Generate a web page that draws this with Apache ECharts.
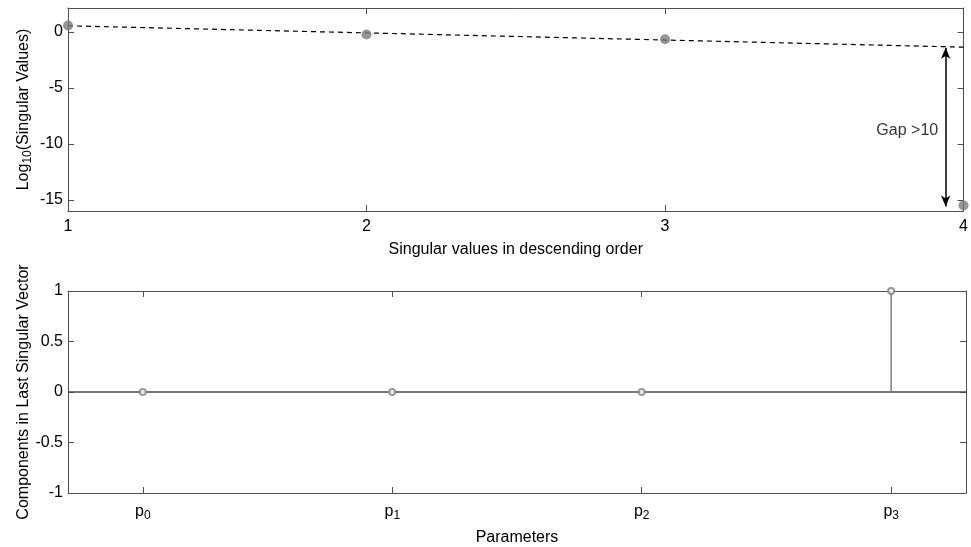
<!DOCTYPE html>
<html><head><meta charset="utf-8">
<script src="https://cdn.jsdelivr.net/npm/echarts@6/dist/echarts.min.js"></script>
<style>html,body{margin:0;padding:0;background:#fff}#c{width:971px;height:547px}</style>
</head><body><div id="c"></div>
<script>
// Top panel: log10 singular values
const svIndex = [1, 2, 3, 4];
const svLog = [0.58, -0.22, -0.65, -15.5];
const fitX = [1, 4];
const fitY = [0.56, -1.35];
const gapX = 3.94;
const gapY = [-1.4, -15.6];
const topYTicks = [-15, -10, -5, 0];
// Bottom panel: components of last singular vector
const params = ['p0', 'p1', 'p2', 'p3'];
const paramIdx = [0, 1, 2, 3];
const comps = [0, 0, 0, 1];

const AX = '#505050';
const FONT = 'Liberation Sans, Arial, Helvetica, sans-serif';
const FS = 16;
const chart = echarts.init(document.getElementById('c'), null, {renderer: 'canvas'});

const axisCommon = {
  axisLine: {show: true, onZero: false, lineStyle: {color: AX, width: 1}},
  axisTick: {show: true, inside: true, length: 6, lineStyle: {color: AX}},
  splitLine: {show: false},
  nameMoveOverlap: false,
  axisLabel: {color: '#000', fontFamily: FONT, fontSize: FS}
};
const nameStyle = {color: '#000', fontSize: FS, fontFamily: FONT};

const option = {
  animation: false,
  textStyle: {fontFamily: FONT},
  grid: [
    {left: 68, top: 8, width: 898, height: 203},
    {left: 68, top: 291, width: 898, height: 203}
  ],
  xAxis: [
    Object.assign({}, axisCommon, {
      type: 'value', gridIndex: 0, min: 1, max: 4, interval: 1, position: 'bottom',
      name: 'Singular values in descending order', nameLocation: 'middle', nameGap: 31,
      nameTextStyle: nameStyle,
      axisLabel: {color: '#000', fontFamily: FONT, fontSize: FS, margin: 8}
    }),
    Object.assign({}, axisCommon, {
      type: 'value', gridIndex: 0, min: 1, max: 4, interval: 1, position: 'top',
      axisLabel: {show: false}
    }),
    Object.assign({}, axisCommon, {
      type: 'value', gridIndex: 1, min: -0.3, max: 3.3, position: 'bottom',
      axisTick: {show: true, inside: true, length: 6, lineStyle: {color: AX}, customValues: paramIdx},
      axisLabel: {
        color: '#000', fontFamily: FONT, fontSize: FS, margin: 8, customValues: paramIdx,
        formatter: v => '{p|p}{s|' + params[Math.round(v)].slice(1) + '}',
        rich: {p: {fontSize: FS, color: '#000', fontFamily: FONT},
               s: {fontSize: 12, color: '#000', fontFamily: FONT, padding: [9, 0, 0, 0]}}
      },
      name: 'Parameters', nameLocation: 'middle', nameGap: 37,
      nameTextStyle: nameStyle
    }),
    Object.assign({}, axisCommon, {
      type: 'value', gridIndex: 1, min: -0.3, max: 3.3, position: 'top',
      axisTick: {show: true, inside: true, length: 6, lineStyle: {color: AX}, customValues: paramIdx},
      axisLabel: {show: false}
    })
  ],
  yAxis: [
    Object.assign({}, axisCommon, {
      type: 'value', gridIndex: 0, min: -16, max: 2.15, position: 'left',
      axisTick: {show: true, inside: true, length: 6, lineStyle: {color: AX}, customValues: topYTicks},
      axisLabel: {color: '#000', fontFamily: FONT, fontSize: FS, margin: 5, customValues: topYTicks},
      name: '{a|Log}{s|10}{a|(Singular Values)}', nameLocation: 'middle', nameGap: 34,
      nameTextStyle: {color: '#000', fontSize: FS, fontFamily: FONT,
        rich: {a: {fontSize: FS, color: '#000', fontFamily: FONT},
               s: {fontSize: 12, color: '#000', fontFamily: FONT, padding: [9, 0, 0, 0]}}}
    }),
    Object.assign({}, axisCommon, {
      type: 'value', gridIndex: 0, min: -16, max: 2.15, position: 'right',
      axisTick: {show: true, inside: true, length: 6, lineStyle: {color: AX}, customValues: topYTicks},
      axisLabel: {show: false}
    }),
    Object.assign({}, axisCommon, {
      type: 'value', gridIndex: 1, min: -1, max: 1, interval: 0.5, position: 'left',
      axisLabel: {color: '#000', fontFamily: FONT, fontSize: FS, margin: 5},
      name: 'Components in Last Singular Vector', nameLocation: 'middle', nameGap: 36,
      nameTextStyle: nameStyle
    }),
    Object.assign({}, axisCommon, {
      type: 'value', gridIndex: 1, min: -1, max: 1, interval: 0.5, position: 'right',
      axisLabel: {show: false}
    })
  ],
  series: [
    {
      type: 'line', xAxisIndex: 0, yAxisIndex: 0,
      data: fitX.map((x, i) => [x, fitY[i]]),
      symbol: 'none', lineStyle: {color: '#000', width: 1.2, type: [5, 4]}, z: 3, silent: true,
      markLine: {
        silent: true, symbol: ['arrow', 'arrow'], symbolSize: [7, 11],
        lineStyle: {color: '#000', width: 1.5, type: 'solid'},
        label: {show: false},
        data: [[{coord: [gapX, gapY[0]]}, {coord: [gapX, gapY[1]]}]]
      }
    },
    {
      type: 'scatter', xAxisIndex: 0, yAxisIndex: 0,
      data: svIndex.map((x, i) => [x, svLog[i]]),
      symbol: 'circle', symbolSize: 10, itemStyle: {color: '#7a7a7a'}, z: 4, clip: false
    },
    {
      type: 'scatter', xAxisIndex: 0, yAxisIndex: 0,
      data: [[3.915, -8.8]], symbolSize: 0, silent: true,
      label: {show: true, position: 'left', distance: 0, formatter: 'Gap >10', color: '#000', fontSize: FS, fontFamily: FONT}
    },
    {
      type: 'line', xAxisIndex: 2, yAxisIndex: 2,
      data: [[-0.3, 0], [3.3, 0]], symbol: 'none',
      lineStyle: {color: '#4a4a4a', width: 1.5}, z: 2, silent: true
    },
    {
      type: 'bar', xAxisIndex: 2, yAxisIndex: 2,
      data: paramIdx.map((x, i) => [x, comps[i]]),
      barWidth: 1.5, itemStyle: {color: '#808080'}, z: 3, silent: true
    },
    {
      type: 'scatter', xAxisIndex: 2, yAxisIndex: 2,
      data: paramIdx.map((x, i) => [x, comps[i]]),
      symbol: 'emptyCircle', symbolSize: 6,
      itemStyle: {color: '#808080', borderWidth: 1.2}, z: 4, clip: false
    }
  ]
};
chart.setOption(option);
</script></body></html>
